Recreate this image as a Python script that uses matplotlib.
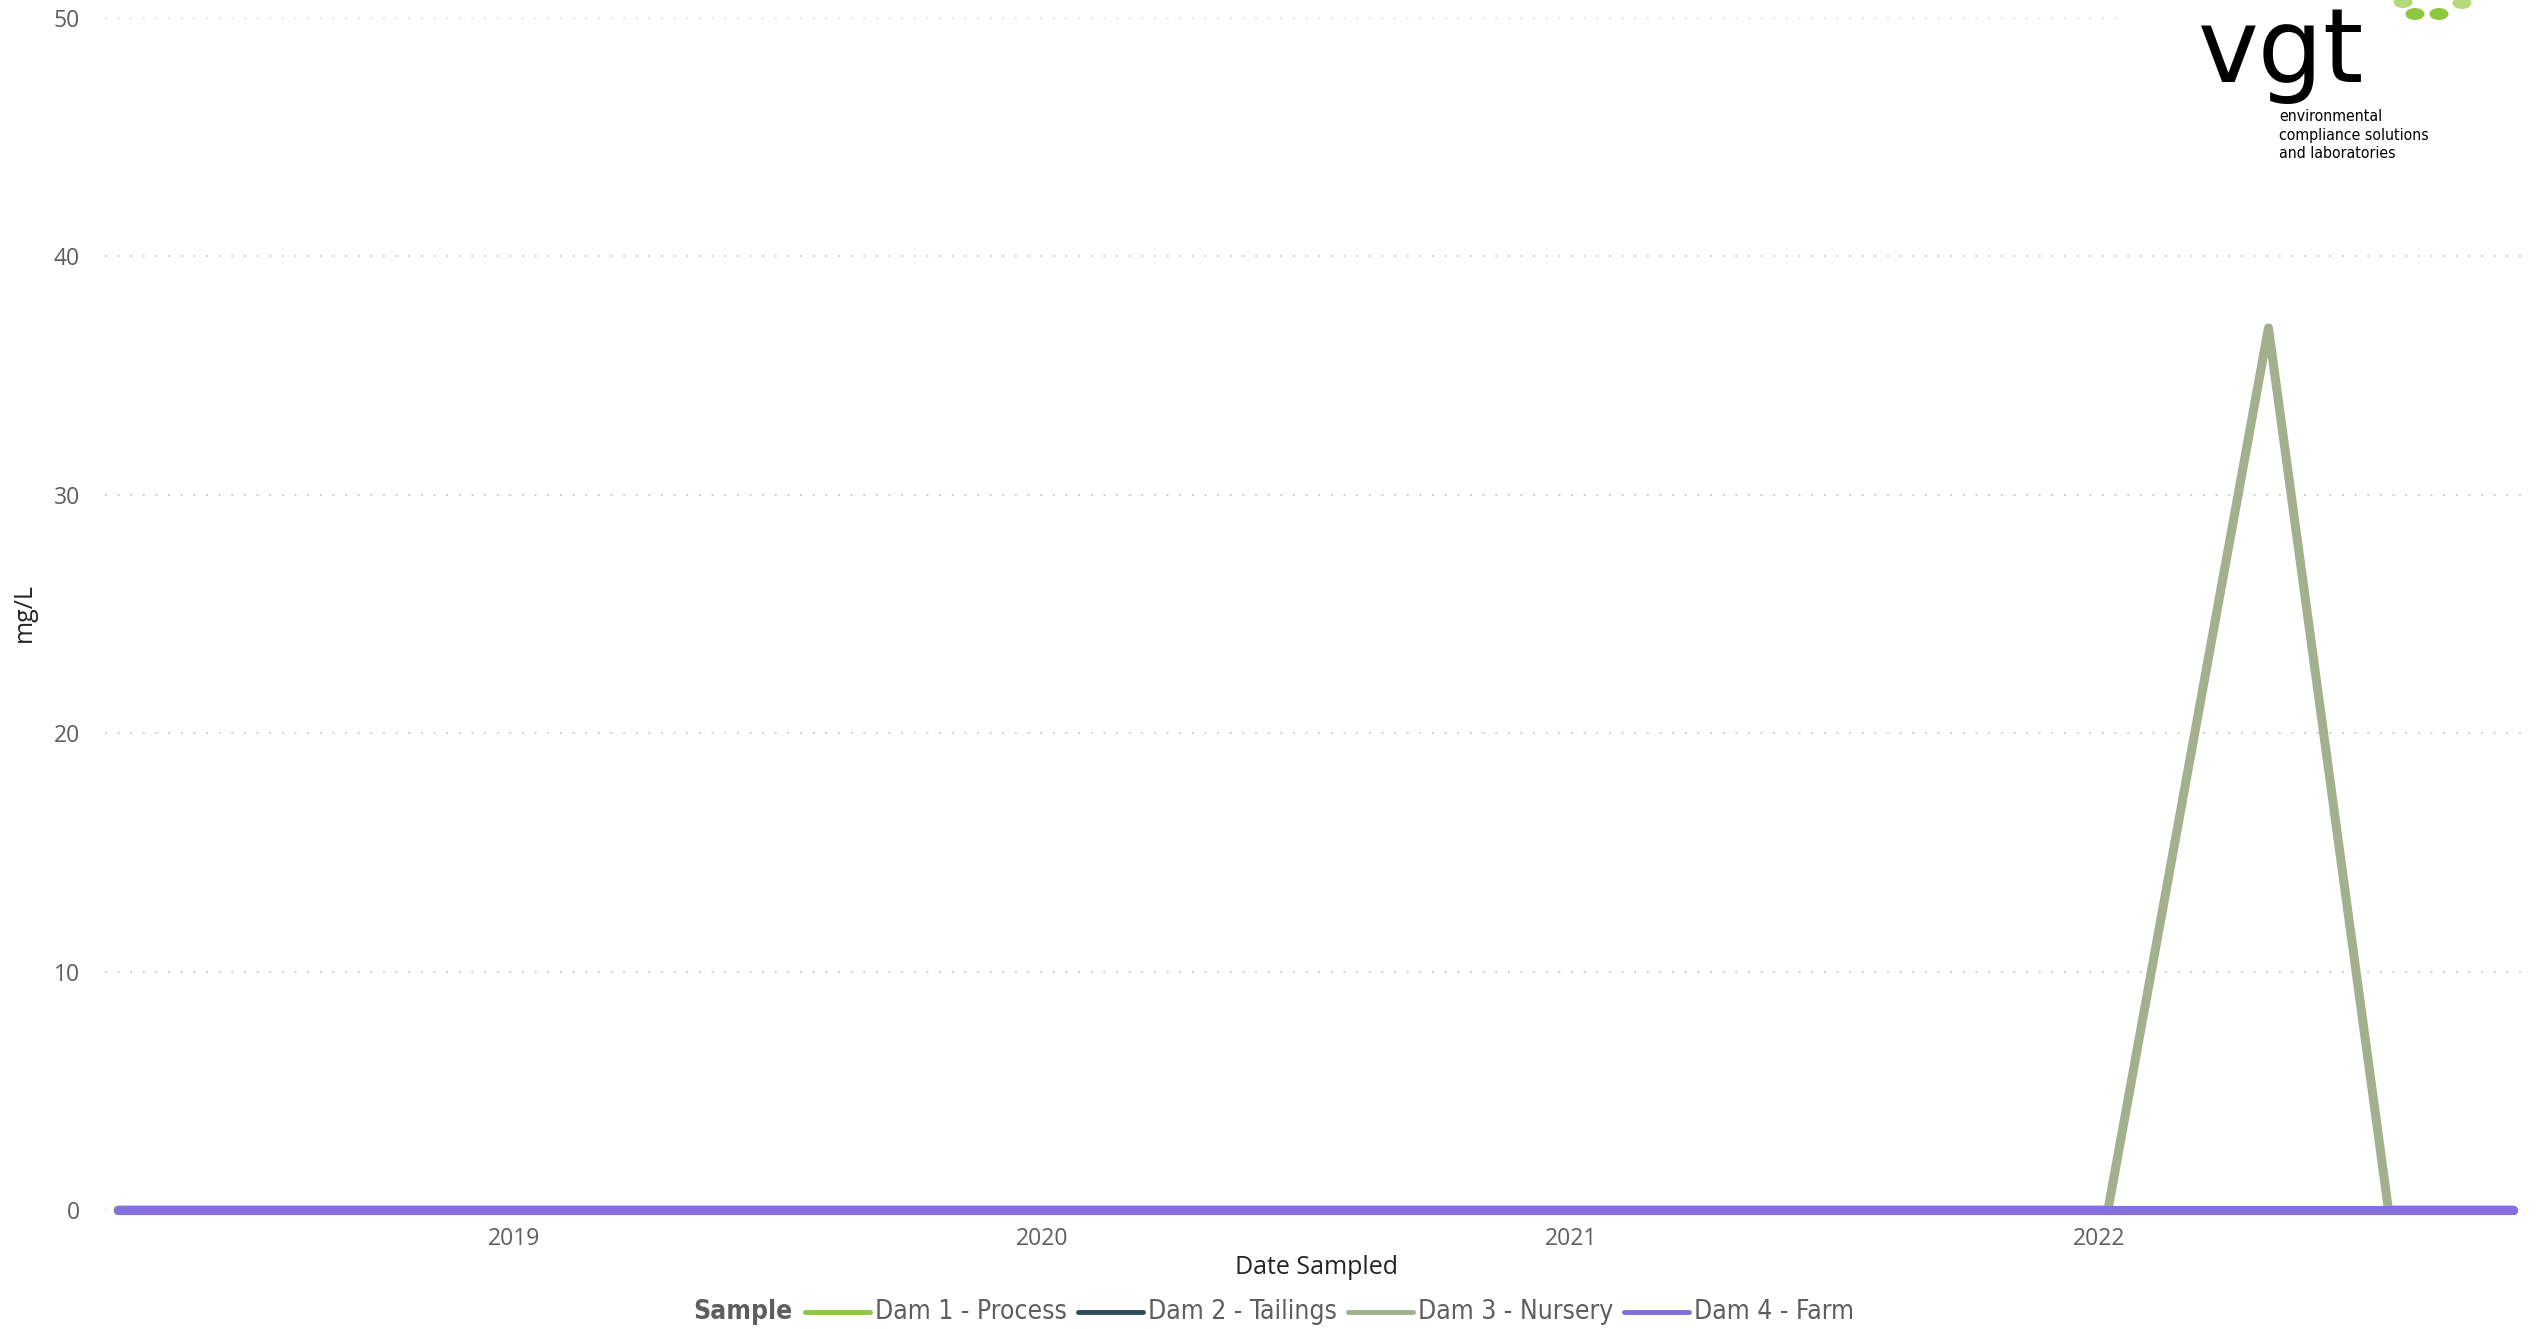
import matplotlib
matplotlib.use("Agg")
import matplotlib.pyplot as plt
import pandas as pd
from matplotlib.lines import Line2D
from matplotlib.patches import Ellipse, Rectangle

# sample dates (quarterly-ish) and results in mg/L
sample_dates = pd.to_datetime([
    "2018-04-02", "2018-07-02", "2018-10-01", "2019-01-07", "2019-04-01",
    "2019-07-01", "2019-10-01", "2020-01-06", "2020-04-01", "2020-07-01",
    "2020-10-01", "2021-01-05", "2021-04-01", "2021-07-01", "2021-10-01",
    "2022-01-07", "2022-04-28", "2022-07-20", "2022-10-14",
])
dam1_process = [0] * 19
dam2_tailings = [0] * 19
dam3_nursery = [0] * 16 + [37.0, 0, 0]
dam4_farm = [0] * 19

series_names = ["Dam 1 - Process", "Dam 2 - Tailings", "Dam 3 - Nursery", "Dam 4 - Farm"]
series_values = [dam1_process, dam2_tailings, dam3_nursery, dam4_farm]
series_colors = ["#8DC63F", "#2F4B5B", "#A2B08E", "#836FDD"]

y_ticks = [0, 10, 20, 30, 40, 50]
x_ticks = pd.to_datetime(["2019-01-01", "2020-01-01", "2021-01-01", "2022-01-01"])
x_labels = ["2019", "2020", "2021", "2022"]

W, H = 2544, 1329
fig = plt.figure(figsize=(W / 100, H / 100), dpi=100)
fig.patch.set_facecolor("white")

def fx(px):
    return px / W

def fy(py):
    return 1 - py / H

tick_font = "Open Sans"
narrow = ["DejaVu Sans"]

ax = fig.add_axes([fx(105), fy(1210), fx(2523 - 105), (1210 - 18) / H])

for name, vals, col in zip(series_names, series_values, series_colors):
    ax.plot(sample_dates, vals, color=col, lw=6.5, solid_capstyle="round",
            solid_joinstyle="round", clip_on=False, label=name)

ax.set_ylim(0, 50)
ax.set_xlim(pd.Timestamp("2018-03-24"), pd.Timestamp("2022-10-21"))
ax.set_yticks(y_ticks)
ax.set_xticks(x_ticks)
ax.set_xticklabels(x_labels)
ax.xaxis.set_minor_locator(plt.NullLocator())

for s in ax.spines.values():
    s.set_visible(False)
ax.grid(axis="y", color="#C8C8C8", lw=1.3, linestyle=(0, (1, 6)))
ax.set_axisbelow(True)
ax.tick_params(axis="both", length=0, labelsize=16.5, labelcolor="#605E5C")
ax.tick_params(axis="y", pad=18)
ax.tick_params(axis="x", pad=12)
for lbl in ax.get_xticklabels() + ax.get_yticklabels():
    lbl.set_fontfamily(tick_font)

fig.text(fx(1316), fy(1267), "Date Sampled", ha="center", va="center",
         fontsize=18, color="#252423", family=tick_font)
fig.text(fx(24), fy(613), "mg/L", ha="center", va="center", rotation=90,
         fontsize=18, color="#252423", family=tick_font)

# logo block
fig.add_artist(Rectangle((fx(2125), fy(175)), fx(419), 175 / H,
                         transform=fig.transFigure, facecolor="white",
                         edgecolor="none", zorder=5))
for cx, cy, c in [(2403, 2, "#B5D97A"), (2462, 3, "#B5D97A"),
                  (2415, 14, "#8DC63F"), (2439, 14, "#8DC63F")]:
    fig.add_artist(Ellipse((fx(cx), fy(cy)), fx(19), 12 / H,
                           transform=fig.transFigure, facecolor=c,
                           edgecolor="none", zorder=6))
fig.text(fx(2198), fy(82), "vgt", ha="left", va="baseline", fontsize=74,
         color="black", family="DejaVu Sans", zorder=7)
fig.text(fx(2279), fy(109), "environmental\ncompliance solutions\nand laboratories",
         ha="left", va="top", fontsize=11.3, linespacing=1.3,
         color="black", family=narrow, fontstretch="condensed", zorder=7)

# legend row
fig.canvas.draw()
r = fig.canvas.get_renderer()
ly = 1312
x = 693
t = fig.text(fx(x), fy(ly), "Sample", ha="left", va="center", fontsize=19,
             fontweight="bold", color="#605E5C", family=narrow,
             fontstretch="condensed")
x = t.get_window_extent(r).x1 + 13
for name, col in zip(series_names, series_colors):
    fig.add_artist(Line2D([fx(x), fx(x + 65)], [fy(ly), fy(ly)],
                          transform=fig.transFigure, color=col, lw=3.5,
                          solid_capstyle="round"))
    x += 70
    t = fig.text(fx(x), fy(ly), name, ha="left", va="center", fontsize=19,
                 color="#605E5C", family=narrow, fontstretch="condensed")
    x = t.get_window_extent(r).x1 + 11

fig.savefig("out.png", dpi=100, facecolor="white")
